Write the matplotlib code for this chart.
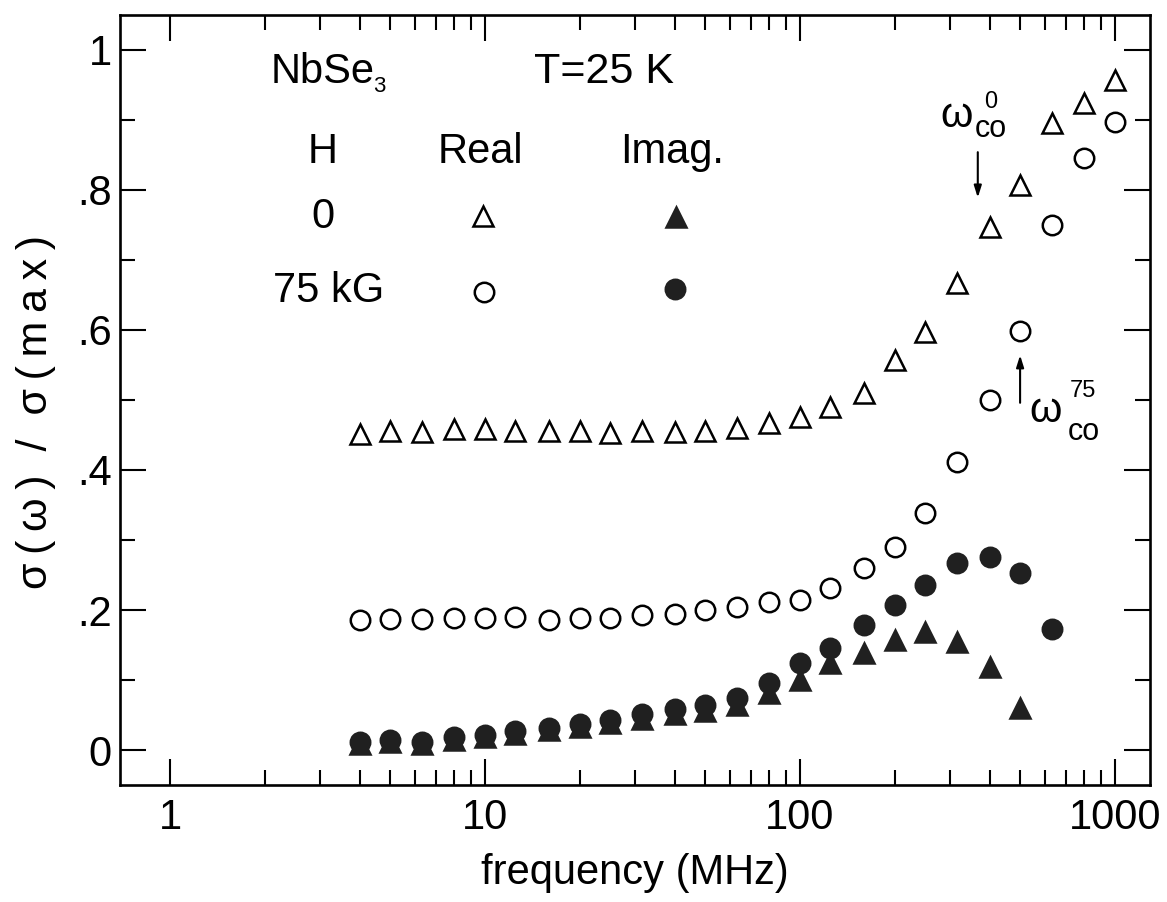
import matplotlib
matplotlib.use('Agg')
import matplotlib.pyplot as plt
from matplotlib.ticker import FixedLocator, FixedFormatter, NullFormatter

plt.rcParams['font.family'] = ['Liberation Sans', 'DejaVu Sans']

# NbSe3 conductivity vs frequency, T = 25 K
freq = [4, 5, 6.3, 8, 10, 12.5, 16, 20, 25, 31.5, 40, 50, 63, 80, 100,
        125, 160, 200, 250, 315, 400, 500, 630, 800, 1000]

real_0 = [0.452, 0.456, 0.454, 0.458, 0.458, 0.456, 0.455, 0.456, 0.453,
          0.455, 0.454, 0.455, 0.460, 0.467, 0.476, 0.490, 0.510, 0.557,
          0.597, 0.667, 0.747, 0.807, 0.895, 0.924, 0.957]
real_75 = [0.186, 0.187, 0.187, 0.188, 0.188, 0.190, 0.186, 0.188, 0.188,
           0.193, 0.195, 0.200, 0.205, 0.211, 0.214, 0.231, 0.260, 0.290,
           0.339, 0.411, 0.500, 0.599, 0.750, 0.846, 0.897]
imag_0 = [0.008, 0.011, 0.009, 0.015, 0.018, 0.023, 0.028, 0.033, 0.038,
          0.045, 0.051, 0.056, 0.064, 0.081, 0.100, 0.124, 0.139, 0.157,
          0.169, 0.154, 0.119, 0.060]
imag_75 = [0.011, 0.014, 0.012, 0.018, 0.021, 0.027, 0.032, 0.037, 0.043,
           0.051, 0.058, 0.064, 0.075, 0.096, 0.124, 0.146, 0.179, 0.207,
           0.236, 0.267, 0.276, 0.253, 0.173]

x_major = [1, 10, 100, 1000]
x_labels = ['1', '10', '100', '1000']
x_minor = [m * d for d in (1, 10, 100) for m in range(2, 10)]
y_major = [0, 0.2, 0.4, 0.6, 0.8, 1.0]
y_labels = ['0', '.2', '.4', '.6', '.8', '1']
y_minor = [0.1, 0.3, 0.5, 0.7, 0.9]

dark = '#202020'
tri = dict(marker='^', ms=15, mew=1.8, ls='none')
circ = dict(marker='o', ms=14, mew=1.8, ls='none')

fig = plt.figure(figsize=(11.67, 9.02), dpi=100)
ax = fig.add_axes([0.1028, 0.1297, 0.8826, 0.8537])

ax.plot(freq, real_0, mfc='white', mec='k', **tri)
ax.plot(freq, real_75, mfc='white', mec='k', **circ)
ax.plot(freq[:len(imag_0)], imag_0, mfc=dark, mec=dark, **tri)
ax.plot(freq[:len(imag_75)], imag_75, mfc=dark, mec=dark, **circ)

ax.set_xscale('log')
ax.set_xlim(0.694, 1292)
ax.set_ylim(-0.05, 1.05)

ax.xaxis.set_major_locator(FixedLocator(x_major))
ax.xaxis.set_major_formatter(FixedFormatter(x_labels))
ax.xaxis.set_minor_locator(FixedLocator(x_minor))
ax.xaxis.set_minor_formatter(NullFormatter())
ax.yaxis.set_major_locator(FixedLocator(y_major))
ax.yaxis.set_major_formatter(FixedFormatter(y_labels))
ax.yaxis.set_minor_locator(FixedLocator(y_minor))

for s in ax.spines.values():
    s.set_linewidth(1.9)
ax.tick_params(which='both', direction='in', top=True, right=True, width=1.5)
ax.tick_params(which='major', length=19, labelsize=30)
ax.tick_params(which='minor', length=11)
ax.tick_params(axis='x', pad=9)
ax.tick_params(axis='y', pad=6)

ax.set_xlabel('frequency (MHz)', fontsize=30, labelpad=11)
th = '\u2009'
ylab = th.join('σ(ω)') + '  /  ' + th.join('σ(max)')
ax.set_ylabel(ylab, fontsize=31)
ax.yaxis.set_label_coords(-0.062, 0.485)

# header and key
fs = 30
ax.text(2.08, 0.953, 'NbSe', fontsize=fs, ha='left', va='baseline')
ax.text(4.4, 0.94, '3', fontsize=16, ha='left', va='baseline')
ax.text(14.3, 0.953, 'T=25 K', fontsize=31, ha='left', va='baseline')
ax.text(3.06, 0.839, 'H', fontsize=fs, ha='center', va='baseline')
ax.text(9.64, 0.839, 'Real', fontsize=fs, ha='center', va='baseline')
ax.text(39.2, 0.839, 'Imag.', fontsize=fs, ha='center', va='baseline')
ax.text(3.06, 0.746, '0', fontsize=fs, ha='center', va='baseline')
ax.text(3.19, 0.640, '75 kG', fontsize=fs, ha='center', va='baseline')
ax.plot([9.86], [0.763], mfc='white', mec='k', **tri)
ax.plot([40.5], [0.761], mfc=dark, mec=dark, **tri)
ax.plot([9.9], [0.654], mfc='white', mec='k', **circ)
ax.plot([40.2], [0.659], mfc=dark, mec=dark, **circ)

# crossover frequency markers
arrow = dict(arrowstyle='-|>,head_width=0.22,head_length=0.7',
             lw=1.5, color='k', shrinkA=0, shrinkB=0)

ax.text(280, 0.890, 'ω', fontsize=30, ha='left', va='baseline')
ax.text(384, 0.917, '0', fontsize=17, ha='left', va='baseline')
ax.text(359, 0.876, 'co', fontsize=22, ha='left', va='baseline')
ax.annotate('', xy=(367, 0.789), xytext=(367, 0.854), arrowprops=arrow)

ax.text(537, 0.469, 'ω', fontsize=30, ha='left', va='baseline')
ax.text(719, 0.504, '75', fontsize=17, ha='left', va='baseline')
ax.text(709, 0.443, 'co', fontsize=22, ha='left', va='baseline')
ax.annotate('', xy=(500, 0.564), xytext=(500, 0.496), arrowprops=arrow)

fig.savefig('out.png', dpi=100)
